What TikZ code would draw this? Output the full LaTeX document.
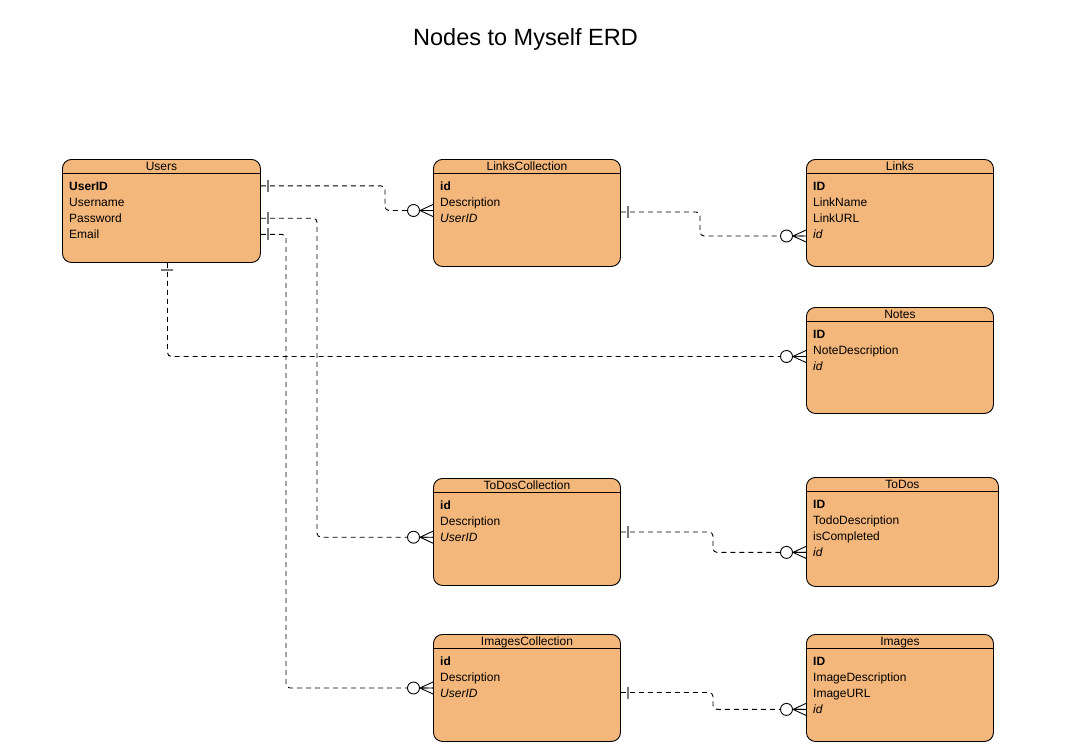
\documentclass[tikz,border=0pt]{standalone}
\usepackage{fontspec}
\setmainfont{Liberation Sans}
\definecolor{tabfill}{RGB}{243,182,123}
\definecolor{barcol}{RGB}{120,120,120}
\tikzset{
  tbl/.style={draw=black, fill=tabfill, rounded corners=9pt, line width=0.9pt, inner sep=0pt, anchor=north west},
  hdrline/.style={draw=black, line width=0.9pt},
  hdr/.style={inner sep=0pt, font=\fontsize{12}{14}\selectfont, text height=8.6pt, text depth=0pt},
  rowtxt/.style={anchor=west, inner sep=0pt, font=\fontsize{12}{14}\selectfont, text height=8.6pt, text depth=0pt},
  conn/.style={draw=black, line width=0.9pt, dash pattern=on 5pt off 4pt, rounded corners=4pt},
  markline/.style={draw=black, line width=0.9pt},
  barline/.style={draw=barcol, line width=1.5pt}
}
\newcommand{\erdtbl}[7]{%
  \node[tbl, minimum width=#4pt, minimum height=#5pt] (#1) at (#2,#3) {};
  \draw[hdrline] ([yshift=-14pt]#1.north west) -- ([yshift=-14pt]#1.north east);
  \node[hdr] (#1-h) at ([yshift=-7pt]#1.north) {#6};
  \foreach \t [count=\i] in {#7} {
    \node[rowtxt] (#1-\i) at ([xshift=7pt,yshift={-26.8pt-16.2pt*(\i-1)}]#1.north west) {\t};
  }
}
\newcommand{\manyend}[1]{%
  \draw[markline] ([xshift=-13pt]#1) -- ([yshift=6pt]#1)
                  ([xshift=-13pt]#1) -- ([yshift=-6pt]#1)
                  ([xshift=-13.5pt]#1) -- (#1);
  \draw[markline, fill=white] ([xshift=-19.5pt]#1) circle (6pt);
}
\newcommand{\onebarh}[1]{%
  \draw[barline] ([xshift=7pt,yshift=6pt]#1) -- ([xshift=7pt,yshift=-6pt]#1);
}
\newcommand{\onebarv}[1]{%
  \draw[barline] ([xshift=-6pt,yshift=-7pt]#1) -- ([xshift=6pt,yshift=-7pt]#1);
}
\begin{document}
\begin{tikzpicture}[x=1pt,y=-1pt]
\fill[white] (0,0) rectangle (1079,750);
\useasboundingbox (0,0) rectangle (1079,750);

\node[anchor=base, inner sep=0pt, font=\fontsize{23.5}{28}\selectfont] (title) at (525.5,45) {Nodes to Myself ERD};

\erdtbl{users}{62}{159}{198}{103}{Users}{\textbf{UserID},Username,Password,Email}
\erdtbl{lc}{433}{159}{187}{107}{LinksCollection}{\textbf{id},Description,\textit{UserID}}
\erdtbl{links}{806}{159}{187}{107}{Links}{\textbf{ID},LinkName,LinkURL,\textit{id}}
\erdtbl{notes}{806}{307}{187}{106}{Notes}{\textbf{ID},NoteDescription,\textit{id}}
\erdtbl{tc}{433}{478}{187}{107}{ToDosCollection}{\textbf{id},Description,\textit{UserID}}
\erdtbl{todos}{806}{477}{192}{109}{ToDos}{\textbf{ID},TodoDescription,isCompleted,\textit{id}}
\erdtbl{ic}{433}{634}{187}{107}{ImagesCollection}{\textbf{id},Description,\textit{UserID}}
\erdtbl{images}{806}{634}{187}{107}{Images}{\textbf{ID},ImageDescription,ImageURL,\textit{id}}

% connector end points
\coordinate (u1) at (users.east |- users-1);
\coordinate (u3) at (users.east |- users-3);
\coordinate (u4) at (users.east |- users-4);
\coordinate (ub) at ([xshift=6pt]users.south);
\coordinate (lcin) at (lc.west |- 0,210.5);
\coordinate (tcin) at (tc.west |- tc-3);
\coordinate (icin) at (ic.west |- 0,688);
\coordinate (notesin) at (notes.west |- 0,356.5);
\coordinate (lcout) at (lc.east |- 0,212);
\coordinate (tcout) at (tc.east |- 0,532);
\coordinate (icout) at (ic.east |- 0,692.5);
\coordinate (linksin) at (links.west |- 0,236);
\coordinate (todosin) at (todos.west |- todos-4);
\coordinate (imagesin) at (images.west |- images-4);
% bend columns
\coordinate (j1) at (385,0);
\coordinate (j2) at (317,0);
\coordinate (j3) at (286,0);
\coordinate (j5) at (700,0);
\coordinate (j6) at (713,0);
\coordinate (j7) at (713,0);

\draw[conn] (u1) -| (j1 |- lcin) -- (lcin);
\draw[conn] (u3) -| (j2 |- tcin) -- (tcin);
\draw[conn] (u4) -| (j3 |- icin) -- (icin);
\draw[conn] (ub) |- (notesin);
\draw[conn] (lcout) -| (j5 |- linksin) -- (linksin);
\draw[conn] (tcout) -| (j6 |- todosin) -- (todosin);
\draw[conn] (icout) -| (j7 |- imagesin) -- (imagesin);

\onebarh{u1}
\onebarh{u3}
\onebarh{u4}
\onebarv{ub}
\onebarh{lcout}
\onebarh{tcout}
\onebarh{icout}

\manyend{lcin}
\manyend{tcin}
\manyend{icin}
\manyend{notesin}
\manyend{linksin}
\manyend{todosin}
\manyend{imagesin}
\end{tikzpicture}
\end{document}
